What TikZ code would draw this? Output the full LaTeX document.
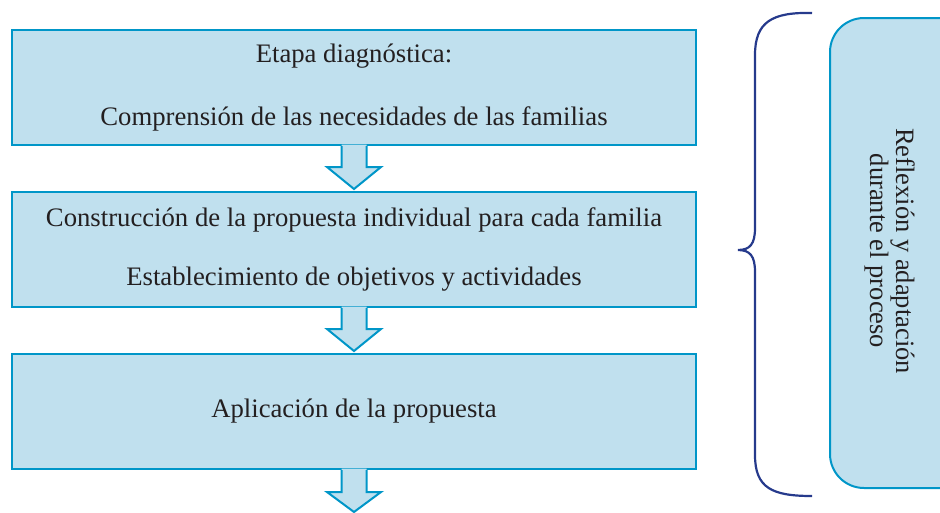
\documentclass[tikz,border=0pt]{standalone}
\usepackage{fontspec}
\setmainfont{Liberation Serif}
\usetikzlibrary{calc}
\definecolor{boxfill}{RGB}{192,224,238}
\definecolor{boxline}{RGB}{0,150,200}
\definecolor{bracecol}{RGB}{38,58,140}
\definecolor{txt}{RGB}{35,31,32}
\tikzset{
  stage/.style={draw=boxline, fill=boxfill, line width=2pt, minimum width=684pt, minimum height=115pt,
    inner sep=0pt, align=center, text=txt},
  flowfill/.style={fill=boxfill},
  flowline/.style={draw=boxline, line width=2pt, line join=miter},
  side/.style={draw=boxline, fill=boxfill, line width=2pt, rounded corners=34pt},
  bracepath/.style={draw=bracecol, line width=2.2pt}
}
\begin{document}
\begin{tikzpicture}[x=1pt,y=-1pt]
\useasboundingbox (0,0) rectangle (940,512);
\node[stage, font=\fontsize{26.7}{63}\selectfont] (b1) at (354,87.5) {Etapa diagnóstica:\\Comprensión de las necesidades de las familias};
\node[stage, font=\fontsize{26.7}{59}\selectfont] (b2) at (354,249.5) {Construcción de la propuesta individual para cada familia\\Establecimiento de objetivos y actividades};
\node[stage, font=\fontsize{26.7}{59}\selectfont] (b3) at (354,411.5) {Aplicación de la propuesta};
\coordinate (end) at (354,512);
% arrows
\foreach \s/\t in {b1/b2, b2/b3}{
  \fill[flowfill] ($(\s.south)+(-12.5,-1.5)$) -- ++(0,22.5) -- ++(-14.5,0) -- ($(\t.north)+(0,-2)$) -- ($(\s.south)+(27,21)$) -- ++(-14.5,0) -- ($(\s.south)+(12.5,-1.5)$) -- cycle;
  \draw[flowline] ($(\s.south)+(-12.5,0)$) -- ++(0,21) -- ++(-14.5,0) -- ($(\t.north)+(0,-2)$) -- ($(\s.south)+(27,21)$) -- ++(-14.5,0) -- ($(\s.south)+(12.5,0)$);
}
\fill[flowfill] ($(b3.south)+(-12.5,-1.5)$) -- ++(0,23.5) -- ++(-14.5,0) -- (end) -- ($(b3.south)+(27,22)$) -- ++(-14.5,0) -- ($(b3.south)+(12.5,-1.5)$) -- cycle;
\draw[flowline] ($(b3.south)+(-12.5,0)$) -- ++(0,22) -- ++(-14.5,0) -- (end) -- ($(b3.south)+(27,22)$) -- ++(-14.5,0) -- ($(b3.south)+(12.5,0)$);
% brace
\draw[bracepath] (812,13) .. controls (772,12) and (755,22) .. (755,55) -- (755,228)
  .. controls (755,244) and (750,250) .. (738,250)
  .. controls (750,250) and (755,256) .. (755,272) -- (755,455)
  .. controls (755,488) and (772,496) .. (812,496);
% side box
\draw[side] (830,18) rectangle (990,488);
\node[rotate=-90, align=center, text=txt, font=\fontsize{26.5}{26}\selectfont] (note) at (889.5,251) {Reflexión y adaptación\\durante el proceso};
\end{tikzpicture}
\end{document}
